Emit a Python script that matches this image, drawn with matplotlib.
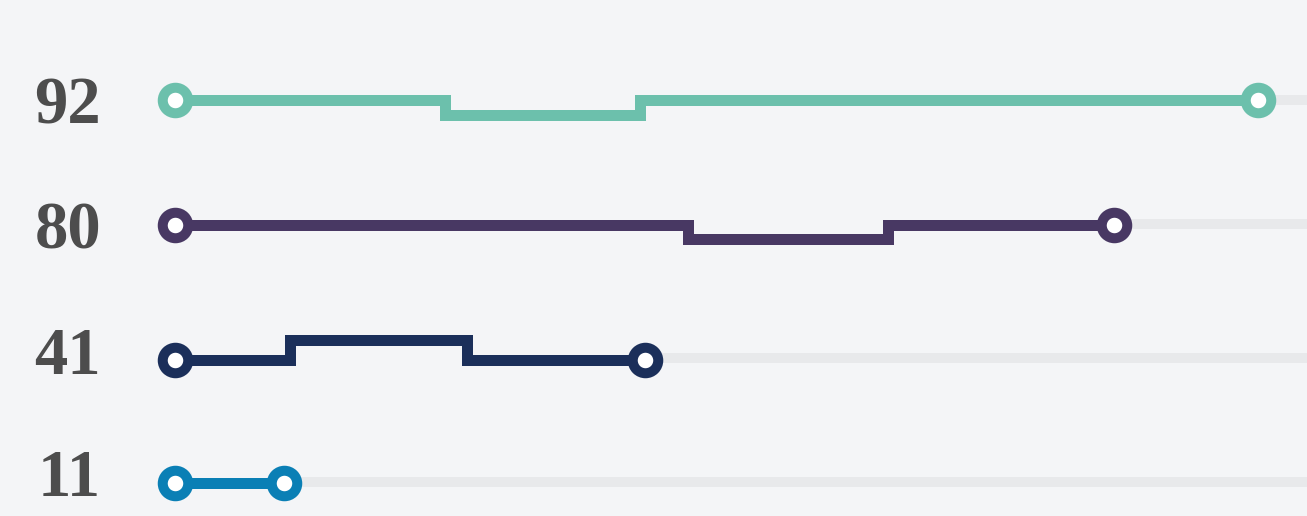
import matplotlib
matplotlib.use("Agg")
import matplotlib.pyplot as plt

# ---- data ----
labels = ["92", "80", "41", "11"]
values = [92, 80, 41, 11]
start_value = 1.9
colors = ["#6cc0ac", "#483863", "#1b2f5a", "#0a7fb5"]
# step breakpoints (value units) and vertical offsets of the middle segment (px, + = down)
step_breaks = [[24.4, 40.6], [44.6, 61.2], [11.5, 26.2], []]
step_offsets = [14.5, 13.5, -20.0, 0.0]

# ---- layout ----
row_y = [100, 225, 360, 483]
track_y = [100, 224, 358, 482]
label_y = [107, 232, 357, 480]
BG = "#f4f5f7"
TRACK = "#e8e9eb"
TEXT = "#4d4d4d"

W, H, DPI = 1307, 516, 100
fig = plt.figure(figsize=(W / DPI, H / DPI), dpi=DPI, facecolor=BG)
ax = fig.add_axes([0, 0, 1, 1], facecolor=BG)
slope, intercept = 12.02, 152.0
ax.set_xlim(-intercept / slope, (W - intercept) / slope)
ax.set_ylim(H, 0)
ax.axis("off")

px = 72.0 / DPI  # points per pixel
lw = 11 * px
label_x = (101 - intercept) / slope

for lab, v, c, br, off, y, ty, ly in zip(labels, values, colors, step_breaks,
                                         step_offsets, row_y, track_y, label_y):
    # background track
    ax.plot([v, 200], [ty, ty], color=TRACK, lw=10 * px,
            solid_capstyle="butt", zorder=1)
    xs = [start_value] + br + [v]
    ys = [y, y + off, y, y] if br else [y, y]
    ax.step(xs, ys, where="post", color=c, lw=lw, zorder=2,
            solid_joinstyle="miter", solid_capstyle="butt")
    ax.plot([start_value, v], [y, y], linestyle="none", marker="o",
            ms=25.5 * px, mew=10 * px, mec=c, mfc="white", zorder=3)
    ax.text(label_x, ly, lab, ha="right", va="center", color=TEXT,
            fontsize=48, fontweight="bold", family="Liberation Serif")

fig.savefig("out.png", dpi=DPI, facecolor=BG)
